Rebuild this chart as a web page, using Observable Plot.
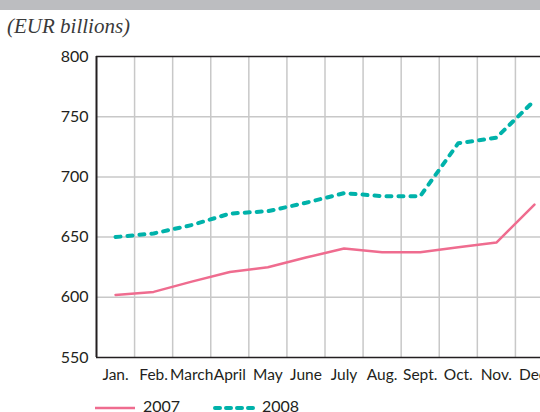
<!DOCTYPE html>
<html><head><meta charset="utf-8">
<script src="https://cdn.jsdelivr.net/npm/d3@7"></script>
<script src="https://cdn.jsdelivr.net/npm/@observablehq/plot@0.6"></script>
<style>
html,body{margin:0;padding:0;background:#fff;overflow:hidden;width:540px;height:412px;}
#bar{position:absolute;left:0;top:0;width:540px;height:10px;background:#bcbdc0;}
#title{position:absolute;left:7px;top:16px;font-family:"Liberation Serif",serif;font-style:italic;font-size:21px;color:#3a3a3a;line-height:1;white-space:nowrap;}
#chart{position:absolute;left:0;top:40px;}
#chart svg{max-width:none;overflow:visible;}
.lg{position:absolute;font-family:Lato,sans-serif;font-size:16px;line-height:1;color:#231f20;white-space:nowrap;}
.sw{position:absolute;}
</style>
</head><body>
<div id="bar"></div>
<div id="title">(EUR billions)</div>
<div id="chart"></div>
<svg class="sw" style="left:95px;top:402px" width="42" height="12"><line x1="0" y1="6" x2="40" y2="6" stroke="#ef6c8f" stroke-width="2.5"/></svg>
<div class="lg" style="left:143px;top:398px">2007</div>
<svg class="sw" style="left:211px;top:402px" width="46" height="12"><line x1="4" y1="6" x2="43" y2="6" stroke="#00b2aa" stroke-width="4" stroke-dasharray="5,6" stroke-linecap="round"/></svg>
<div class="lg" style="left:262px;top:398px">2008</div>
<script>
const months = ["Jan.","Feb.","March","April","May","June","July","Aug.","Sept.","Oct.","Nov.","Dec."];
const v2007 = [602, 604.5, 613, 621, 625, 633, 640.5, 637.5, 637.5, 641.5, 645.5, 677];
const v2008 = [650, 653, 660, 669.5, 671.5, 678.5, 686.5, 684, 684, 728, 732.5, 763.5];
const yTicks = [550, 600, 650, 700, 750, 800];
const yGrid = [600, 650, 700, 750];

const idx = months.map((m, i) => i);
const chart = Plot.plot({
  width: 560, height: 372,
  marginLeft: 96, marginRight: 7, marginTop: 16, marginBottom: 55,
  x: {domain: [-0.5, months.length - 0.5]},
  y: {domain: [yTicks[0], yTicks[yTicks.length - 1]]},
  style: {fontFamily: "Lato, sans-serif", fontSize: "16px", color: "#231f20", background: "white"},
  marks: [
    Plot.ruleX(idx.map(i => i + 0.5), {stroke: "#c8c8c8", strokeWidth: 1.5}),
    Plot.ruleY(yGrid, {stroke: "#c8c8c8", strokeWidth: 1.5}),
    Plot.ruleY([yTicks[0], yTicks[yTicks.length - 1]], {stroke: "#231f20", strokeWidth: 1.5}),
    Plot.ruleX([-0.5], {stroke: "#231f20", strokeWidth: 2}),
    Plot.axisY(yTicks, {tickSize: 0, tickPadding: 8, fontSize: 16}),
    Plot.axisX(idx, {tickSize: 0, tickPadding: 11, tickFormat: i => months[i], fontSize: 15.5}),
    Plot.lineY(v2007, {x: (d, i) => i, y: d => d, stroke: "#ef6c8f", strokeWidth: 2.5}),
    Plot.lineY(v2008, {x: (d, i) => i, y: d => d, stroke: "#00b2aa", strokeWidth: 4, strokeDasharray: "5,7", strokeLinecap: "round"})
  ]
});
document.getElementById("chart").appendChild(chart);
</script>
</body></html>
